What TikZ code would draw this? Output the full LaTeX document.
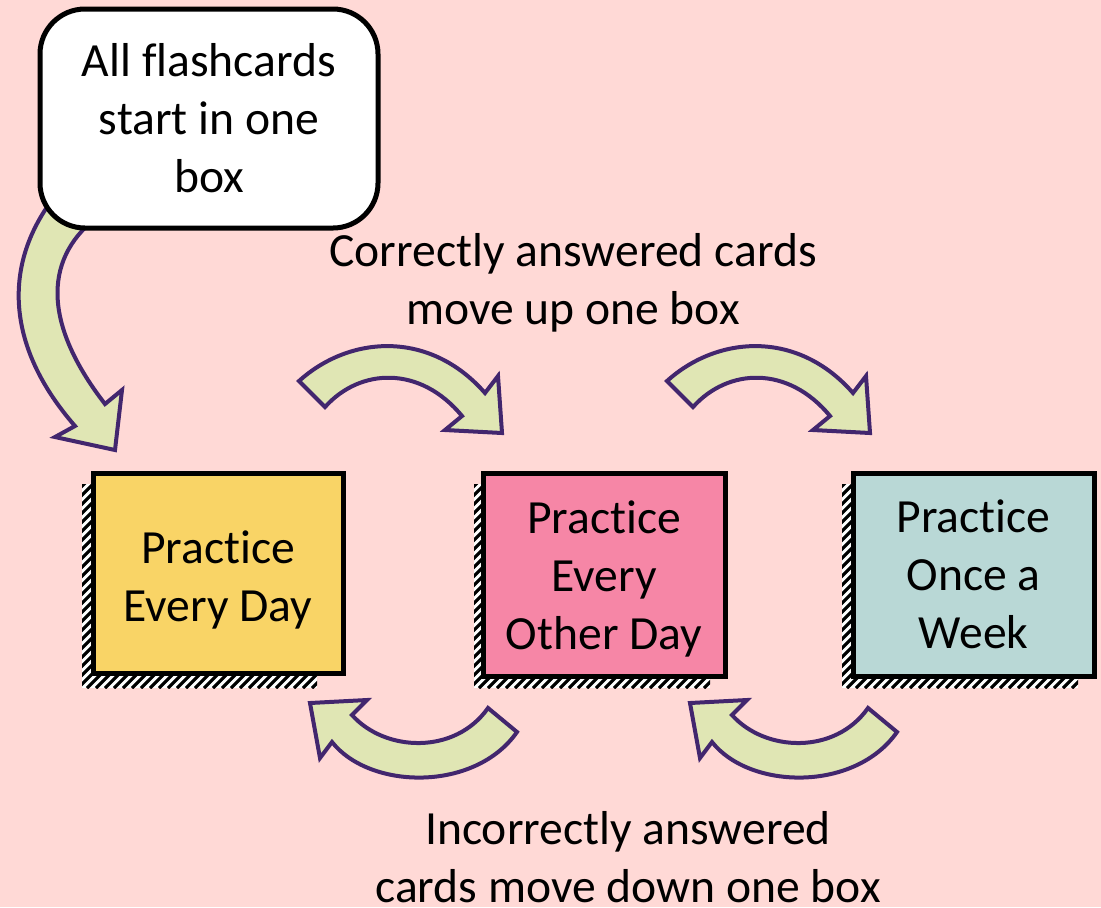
\documentclass[tikz,border=0pt]{standalone}
\usepackage{fontspec}
\setmainfont{Carlito}[Ligatures=NoCommon]
\definecolor{bg}{RGB}{255,217,214}
\definecolor{yel}{RGB}{249,212,102}
\definecolor{pnk}{RGB}{246,134,166}
\definecolor{tea}{RGB}{185,216,214}
\definecolor{arrfill}{RGB}{224,230,180}
\definecolor{arrline}{RGB}{66,38,110}
\tikzset{
  txt/.style={font=\fontsize{23.8pt}{29pt}\selectfont, align=center, inner sep=0pt},
  card/.style={draw=black, line width=2.5pt, inner sep=0pt},
  blockarrow/.style={fill=arrfill, draw=arrline, line width=2pt, line join=miter},
  uparr/.pic={\draw[blockarrow] (299,381) .. controls (350,335) and (430,330) .. (485,393)
      -- (498,376) -- (502,433) -- (445,430) -- (462,416)
      .. controls (420,365) and (360,368) .. (325,407) -- cycle;},
  downarr/.pic={\draw[blockarrow] (517,732) .. controls (475,792) and (370,790) .. (332,742)
      -- (320,758) -- (310,703) -- (367,700) -- (352,715)
      .. controls (385,752) and (455,755) .. (488,708) -- cycle;},
}
\newcommand\myhatch[4]{%
  \begin{scope}
    \clip (#1,#2) rectangle (#3,#4);
    \fill[white] (#1,#2) rectangle (#3,#4);
    \foreach \k in {0,...,53}{\draw[line width=1.6pt] ({#1-220+\k*9},#4) -- ++(220,-220);}
  \end{scope}}
\begin{document}
\begin{tikzpicture}[x=0.5pt,y=-0.5pt]
\useasboundingbox (0,0) rectangle (1101,907);
\fill[bg] (0,0) rectangle (1101,907);
% shadows
\myhatch{82}{484}{317}{688}
\myhatch{474}{484}{710}{688}
\myhatch{842}{484}{1078}{688}
% boxes
\node[card, fill=yel, minimum width=125pt, minimum height=100pt] (b1) at (218,573) {};
\node[card, fill=pnk, minimum width=121pt, minimum height=101.5pt] (b2) at (604,574.5) {};
\node[card, fill=tea, minimum width=120.5pt, minimum height=101.5pt] (b3) at (973.5,574.5) {};
\node[txt] (b1t) at (218,580) {Practice\\Every Day};
\node[txt] (b2t) at (604,578.5) {Practice\\Every\\Other Day};
\node[txt] (b3t) at (973.5,574.5) {Practice\\Once a\\Week};
% start arrow
\draw[blockarrow] (100,215) -- (60,190) .. controls (5,255) and (0,340) .. (75,426)
  -- (55,437) -- (115,450) -- (122,390) -- (105,404)
  .. controls (40,320) and (45,255) .. (100,215) -- cycle;
\node[card, fill=white, rounded corners=22.5pt, minimum width=169pt, minimum height=109.5pt] (start) at (209,118.5) {};
\node[txt] (startt) at (209,118.5) {All flashcards\\start in one\\box};
% curved arrows
\pic at (0,0) {uparr};
\pic at (368,0) {uparr};
\pic at (0,0) {downarr};
\pic at (380,0) {downarr};
% labels
\node[txt] (up) at (573,283) {Correctly answered cards\\move up one box};
\node[txt] (down) at (628,857) {Incorrectly answered\\cards move down one box};
\end{tikzpicture}
\end{document}
